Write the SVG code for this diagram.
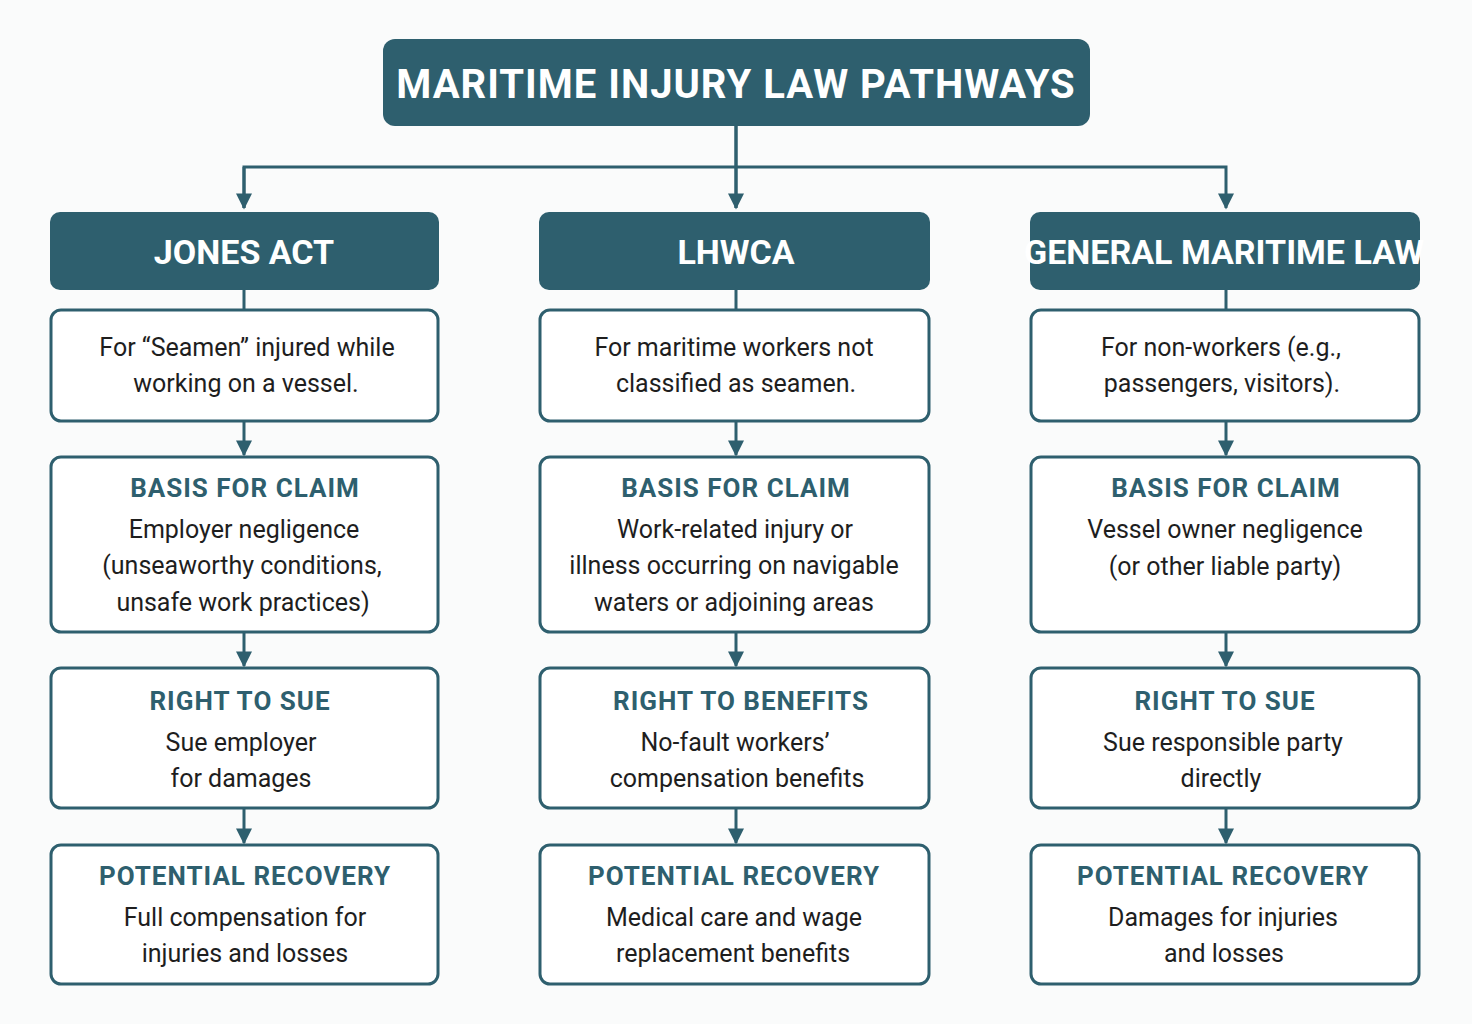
<svg xmlns="http://www.w3.org/2000/svg" width="1472" height="1024" viewBox="0 0 1472 1024">
<style>
.hd{fill:#2e5f6e}
.bx{fill:#fff;stroke:#2e5f6e;stroke-width:3}
.t{font-family:Roboto,"DejaVu Sans",sans-serif;text-anchor:middle}
.w{fill:#fff;font-weight:bold}
.h{fill:#2e5f6e;font-weight:bold;font-size:26px;letter-spacing:1px}
.b{fill:#1e1e1e;font-size:25px}
.ln{stroke:#2e5f6e;stroke-width:3;fill:none}
</style>
<defs><marker id="a" markerWidth="8" markerHeight="8" refX="4" refY="4" orient="auto" markerUnits="userSpaceOnUse" viewBox="0 0 8 8"><path d="M0,0L8,4L0,8z" fill="#2e5f6e"/></marker>
<marker id="ar" viewBox="0 0 10 10" refX="9" refY="5" markerWidth="20" markerHeight="16" markerUnits="userSpaceOnUse" orient="auto"><path d="M0,0L10,5L0,10z" fill="#2e5f6e"/></marker></defs>
<rect width="1472" height="1024" fill="#fafbfb"/>
<g id="connectors">
<path class="ln" d="M736,126V208M244,208V167H1226V208" marker-end="url(#ar)"/>
<path class="ln" d="M244,167V208" marker-end="url(#ar)"/>
<path class="ln" d="M736,126V208" marker-end="url(#ar)"/>
<path class="ln" d="M244,290V310M736,290V310M1226,290V310"/>
<g marker-end="url(#ar)">
<path class="ln" d="M244,421V455"/><path class="ln" d="M736,421V455"/><path class="ln" d="M1226,421V455"/>
<path class="ln" d="M244,632V666"/><path class="ln" d="M736,632V666"/><path class="ln" d="M1226,632V666"/>
<path class="ln" d="M244,808V843"/><path class="ln" d="M736,808V843"/><path class="ln" d="M1226,808V843"/>
</g>
</g>
<g id="title"><rect class="hd" x="383" y="39" width="707" height="87" rx="12"/><text class="t w" x="736" y="98" font-size="40" letter-spacing="1">MARITIME INJURY LAW PATHWAYS</text></g>
<g id="jones"><rect class="hd" x="50" y="212" width="389" height="78" rx="10"/><text class="t w" x="244" y="264" font-size="34">JONES ACT</text></g>
<g id="lhwca"><rect class="hd" x="539" y="212" width="391" height="78" rx="10"/><text class="t w" x="736" y="264" font-size="34">LHWCA</text></g>
<g id="gml"><rect class="hd" x="1030" y="212" width="390" height="78" rx="10"/><text class="t w" x="1224" y="264" font-size="34">GENERAL MARITIME LAW</text></g>
<g id="j1"><rect class="bx" x="51" y="310" width="387" height="111" rx="10"/><text class="t b" x="247" y="356">For “Seamen” injured while</text><text class="t b" x="246" y="392">working on a vessel.</text></g>
<g id="l1"><rect class="bx" x="540" y="310" width="389" height="111" rx="10"/><text class="t b" x="734" y="356">For maritime workers not</text><text class="t b" x="736" y="392">classified as seamen.</text></g>
<g id="g1"><rect class="bx" x="1031" y="310" width="388" height="111" rx="10"/><text class="t b" x="1221" y="356">For non-workers (e.g.,</text><text class="t b" x="1222" y="392">passengers, visitors).</text></g>
<g id="j2"><rect class="bx" x="51" y="457" width="387" height="175" rx="10"/><text class="t h" x="245" y="497">BASIS FOR CLAIM</text><text class="t b" x="244" y="538">Employer negligence</text><text class="t b" x="242" y="574">(unseaworthy conditions,</text><text class="t b" x="243" y="611">unsafe work practices)</text></g>
<g id="l2"><rect class="bx" x="540" y="457" width="389" height="175" rx="10"/><text class="t h" x="736" y="497">BASIS FOR CLAIM</text><text class="t b" x="735" y="538">Work-related injury or</text><text class="t b" x="734" y="574">illness occurring on navigable</text><text class="t b" x="734" y="611">waters or adjoining areas</text></g>
<g id="g2"><rect class="bx" x="1031" y="457" width="388" height="175" rx="10"/><text class="t h" x="1226" y="497">BASIS FOR CLAIM</text><text class="t b" x="1225" y="538">Vessel owner negligence</text><text class="t b" x="1225" y="575">(or other liable party)</text></g>
<g id="j3"><rect class="bx" x="51" y="668" width="387" height="140" rx="10"/><text class="t h" x="240" y="710">RIGHT TO SUE</text><text class="t b" x="241" y="751">Sue employer</text><text class="t b" x="241" y="787">for damages</text></g>
<g id="l3"><rect class="bx" x="540" y="668" width="389" height="140" rx="10"/><text class="t h" x="741" y="710">RIGHT TO BENEFITS</text><text class="t b" x="735" y="751">No-fault workers’</text><text class="t b" x="737" y="787">compensation benefits</text></g>
<g id="g3"><rect class="bx" x="1031" y="668" width="388" height="140" rx="10"/><text class="t h" x="1225" y="710">RIGHT TO SUE</text><text class="t b" x="1223" y="751">Sue responsible party</text><text class="t b" x="1221" y="787">directly</text></g>
<g id="j4"><rect class="bx" x="51" y="845" width="387" height="139" rx="10"/><text class="t h" x="245" y="885">POTENTIAL RECOVERY</text><text class="t b" x="245" y="926">Full compensation for</text><text class="t b" x="245" y="962">injuries and losses</text></g>
<g id="l4"><rect class="bx" x="540" y="845" width="389" height="139" rx="10"/><text class="t h" x="734" y="885">POTENTIAL RECOVERY</text><text class="t b" x="734" y="926">Medical care and wage</text><text class="t b" x="733" y="962">replacement benefits</text></g>
<g id="g4"><rect class="bx" x="1031" y="845" width="388" height="139" rx="10"/><text class="t h" x="1223" y="885">POTENTIAL RECOVERY</text><text class="t b" x="1223" y="926">Damages for injuries</text><text class="t b" x="1224" y="962">and losses</text></g>
</svg>
